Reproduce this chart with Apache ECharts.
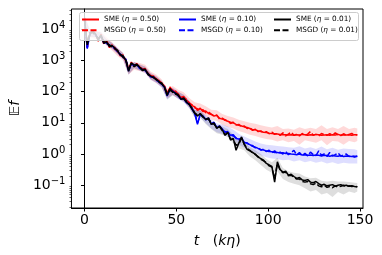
<!DOCTYPE html>
<html><head><meta charset="utf-8">
<script src="https://cdn.jsdelivr.net/npm/echarts@6/dist/echarts.min.js"></script>
<style>html,body{margin:0;padding:0;background:#fff}#c{width:382px;height:255px}</style>
</head><body><div id="c"></div>
<script>
// sample times (k eta): 0, 1.5, ..., 148.5 for the curves
const tStep = 1.5;
// band sample times: 0, 3, ..., 147, 148.5
const bandStep = 3;
// log10 of E f
const smeRed = [4.34,3.45,3.88,3.92,3.83,3.68,3.8,3.58,3.62,3.47,
 3.46,3.42,3.28,3.2,3.13,3.03,2.7,2.93,2.83,2.87,
 2.8,2.72,2.74,2.58,2.52,2.48,2.42,2.35,2.28,2.18,
 1.95,2.12,2.05,1.98,1.93,1.8,1.85,1.72,1.65,1.55,
 1.52,1.4,1.47,1.36,1.38,1.3,1.27,1.22,1.24,1.15,
 1.12,1.1,1.05,1.02,1.0,0.95,0.92,0.9,0.87,0.85,
 0.82,0.78,0.78,0.74,0.72,0.7,0.69,0.67,0.66,0.65,
 0.64,0.63,0.62,0.62,0.61,0.62,0.6,0.62,0.61,0.63,
 0.62,0.6,0.62,0.61,0.63,0.62,0.6,0.61,0.62,0.6,
 0.62,0.61,0.63,0.6,0.62,0.61,0.62,0.6,0.62,0.62];
const msgdRed = [4.3,3.42,3.9,3.9,3.86,3.62,3.84,3.52,3.65,3.42,
 3.5,3.36,3.32,3.15,3.18,2.98,2.72,2.95,2.8,2.9,
 2.76,2.74,2.68,2.6,2.48,2.5,2.38,2.36,2.25,2.2,
 1.9,2.15,2.0,2.02,1.9,1.85,1.8,1.75,1.62,1.58,
 1.48,1.45,1.4,1.42,1.32,1.35,1.28,1.22,1.25,1.12,
 1.15,1.08,1.06,0.98,1.02,0.93,0.95,0.88,0.9,0.82,
 0.84,0.76,0.8,0.72,0.74,0.68,0.72,0.65,0.7,0.63,
 0.66,0.6,0.68,0.58,0.64,0.7,0.6,0.64,0.58,0.66,
 0.6,0.64,0.72,0.6,0.63,0.58,0.66,0.62,0.6,0.65,
 0.6,0.68,0.62,0.59,0.65,0.6,0.63,0.66,0.6,0.62];
const smeBlue = [4.35,3.4,3.87,3.93,3.84,3.66,3.8,3.56,3.58,3.46,
 3.47,3.38,3.31,3.17,3.14,3.01,2.66,2.9,2.86,2.86,
 2.77,2.71,2.7,2.56,2.49,2.46,2.39,2.31,2.24,2.14,
 1.86,2.08,2.02,1.94,1.88,1.76,1.78,1.65,1.6,1.44,
 1.3,0.95,1.28,1.2,1.12,1.15,0.96,1.02,0.84,0.9,
 0.8,0.7,0.72,0.6,0.62,0.5,0.48,0.5,0.38,0.34,
 0.3,0.25,0.22,0.18,0.15,0.13,0.1,0.08,0.07,0.05,
 0.05,0.03,0.04,0.02,0.02,0.0,-0.01,-0.02,0.0,-0.03,
 -0.02,-0.04,-0.03,-0.05,-0.03,-0.04,-0.06,-0.04,-0.05,-0.07,
 -0.05,-0.06,-0.07,-0.05,-0.08,-0.06,-0.07,-0.08,-0.07,-0.08];
const msgdBlue = [4.3,3.38,3.9,3.9,3.82,3.7,3.76,3.6,3.55,3.5,
 3.44,3.4,3.28,3.2,3.1,3.04,2.7,2.88,2.84,2.88,
 2.74,2.72,2.68,2.58,2.47,2.48,2.36,2.33,2.22,2.16,
 1.9,2.05,2.0,1.96,1.86,1.78,1.75,1.68,1.56,1.47,
 1.33,1.0,1.25,1.22,1.1,1.13,0.98,0.99,0.86,0.88,
 0.78,0.72,0.68,0.62,0.58,0.52,0.45,0.52,0.36,0.36,
 0.28,0.27,0.2,0.2,0.12,0.16,0.08,0.12,0.04,0.1,
 0.02,0.06,0.0,0.08,-0.02,0.04,0.12,-0.03,0.05,-0.05,
 0.02,-0.06,0.06,-0.02,-0.05,0.1,-0.04,0.0,-0.08,0.05,
 -0.06,-0.02,0.04,-0.07,-0.03,0.0,-0.08,-0.05,-0.1,-0.06];
const smeBlack = [4.36,3.5,3.85,3.95,3.85,3.65,3.82,3.55,3.6,3.45,
 3.48,3.4,3.3,3.18,3.15,3.0,2.65,2.92,2.85,2.88,
 2.78,2.7,2.72,2.55,2.5,2.45,2.4,2.32,2.25,2.15,
 1.88,2.1,2.0,1.95,1.9,1.75,1.8,1.66,1.6,1.45,
 1.3,1.22,1.3,1.2,1.1,1.16,0.95,1.0,0.82,0.9,
 0.78,0.6,0.7,0.45,0.5,0.12,0.35,0.55,0.3,0.15,
 0.1,0.05,0.0,-0.1,-0.15,-0.2,-0.3,-0.35,-0.4,-0.9,
 -0.25,-0.5,-0.58,-0.55,-0.68,-0.65,-0.72,-0.78,-0.75,-0.83,
 -0.85,-0.82,-0.9,-0.92,-0.88,-0.95,-1.0,-0.97,-1.02,-1.0,
 -0.98,-1.03,-1.0,-0.98,-1.02,-1.0,-1.03,-1.02,-1.04,-1.05];
const msgdBlack = [4.3,3.55,3.9,3.9,3.8,3.7,3.78,3.6,3.55,3.5,
 3.42,3.38,3.32,3.2,3.1,3.02,2.75,2.9,2.8,2.85,
 2.8,2.68,2.7,2.58,2.48,2.47,2.38,2.3,2.28,2.12,
 1.95,2.05,1.98,1.92,1.88,1.78,1.76,1.7,1.58,1.48,
 1.32,1.25,1.28,1.18,1.12,1.12,0.98,0.96,0.85,0.88,
 0.75,0.62,0.68,0.48,0.46,0.28,0.32,0.5,0.32,0.18,
 0.12,0.04,-0.02,-0.08,-0.17,-0.22,-0.28,-0.38,-0.42,-0.8,
 -0.3,-0.52,-0.6,-0.58,-0.7,-0.68,-0.75,-0.8,-0.8,-0.88,
 -0.9,-0.88,-0.95,-0.98,-0.93,-1.02,-1.05,-1.0,-1.07,-1.04,
 -1.08,-1.02,-1.06,-1.03,-1.0,-1.05,-1.02,-1.04,-1.03,-1.05];
// shaded bands (log10), at band sample times
const redHi = [4.45,4.0,3.95,3.92,3.75,3.58,3.4,3.25,2.85,2.95,
 2.92,2.86,2.65,2.55,2.4,2.1,2.18,2.06,1.98,1.8,
 1.66,1.62,1.53,1.42,1.4,1.28,1.22,1.17,1.1,1.05,
 1.0,0.97,0.92,0.88,0.85,0.9,0.8,0.82,0.78,0.86,
 0.8,0.84,0.8,0.92,0.8,0.86,0.8,0.9,0.8,0.84,0.82];
const redLo = [4.2,3.74,3.7,3.66,3.48,3.32,3.14,3.0,2.55,2.7,
 2.66,2.6,2.38,2.28,2.14,1.8,1.9,1.78,1.7,1.5,
 1.36,1.3,1.22,1.1,1.06,0.94,0.87,0.82,0.74,0.68,
 0.62,0.58,0.52,0.48,0.46,0.4,0.44,0.38,0.42,0.3,
 0.44,0.4,0.36,0.44,0.28,0.42,0.4,0.3,0.42,0.38,0.42];
const blueHi = [4.45,3.97,3.94,3.9,3.68,3.57,3.41,3.24,2.78,2.96,
 2.87,2.8,2.6,2.5,2.35,1.98,2.13,2.0,1.9,1.72,
 1.42,1.4,1.25,1.1,0.98,0.95,0.88,0.78,0.65,0.56,
 0.48,0.4,0.34,0.3,0.28,0.26,0.24,0.22,0.2,0.25,
 0.18,0.22,0.16,0.24,0.15,0.2,0.14,0.18,0.16,0.15,0.12];
const blueLo = [4.25,3.77,3.74,3.7,3.48,3.37,3.21,3.04,2.54,2.76,
 2.67,2.6,2.38,2.28,2.13,1.74,1.9,1.76,1.66,1.48,
 1.18,1.16,0.99,0.82,0.7,0.65,0.56,0.46,0.3,0.2,
 0.12,0.04,-0.04,-0.1,-0.14,-0.16,-0.2,-0.18,-0.24,-0.2,
 -0.26,-0.22,-0.28,-0.24,-0.3,-0.26,-0.32,-0.28,-0.3,-0.3,-0.3];
const blackHi = [4.44,3.93,3.93,3.9,3.68,3.56,3.38,3.23,2.74,2.94,
 2.87,2.81,2.59,2.49,2.34,1.98,2.1,2.0,1.9,1.7,
 1.4,1.4,1.2,1.05,0.92,0.88,0.8,0.62,0.47,0.42,
 0.22,0.12,0.0,-0.16,-0.26,-0.12,-0.45,-0.55,-0.6,-0.62,
 -0.72,-0.78,-0.76,-0.86,-0.88,-0.86,-0.88,-0.88,-0.9,-0.92,-0.93];
const blackLo = [4.26,3.75,3.75,3.72,3.5,3.38,3.2,3.05,2.55,2.75,
 2.68,2.62,2.4,2.3,2.15,1.76,1.88,1.78,1.68,1.47,
 1.17,1.17,0.96,0.8,0.67,0.62,0.54,0.34,0.18,0.12,
 -0.08,-0.2,-0.35,-0.5,-0.6,-0.55,-0.8,-0.9,-0.95,-1.0,
 -1.1,-1.2,-1.15,-1.3,-1.25,-1.38,-1.22,-1.3,-1.2,-1.25,-1.2];
const xTicks = [0, 50, 100, 150];
const yTicks = [0.1, 1, 10, 100, 1000, 10000];
const names = {
  sr: 'SME (η = 0.50)', mr: 'MSGD (η = 0.50)',
  sb: 'SME (η = 0.10)', mb: 'MSGD (η = 0.10)',
  sk: 'SME (η = 0.01)', mk: 'MSGD (η = 0.01)'
};

const lineT = smeRed.map((_, i) => i * tStep);
const bandT = redHi.map((_, i) => (i < redHi.length - 1 ? i * bandStep : 148.5));
const pairs = (ts, logs) => logs.map((l, i) => [ts[i], Math.pow(10, l)]);

const minorTicks = [];
for (let e = -2; e <= 4; e++) for (let m = 2; m <= 9; m++) minorTicks.push(m * Math.pow(10, e));

const FONT = 'DejaVu Sans';
function bandSeries(lo, hi, color) {
  const loPts = pairs(bandT, lo), hiPts = pairs(bandT, hi);
  return {
    type: 'custom', silent: true, z: 1, clip: true,
    data: hiPts,
    renderItem: function (params, api) {
      if (params.dataIndex !== 0) return;
      const pts = hiPts.map(p => api.coord(p)).concat(loPts.slice().reverse().map(p => api.coord(p)));
      return { type: 'polygon', shape: { points: pts }, style: { fill: color } };
    }
  };
}
function lineSeries(name, logs, color, dashed) {
  return { type: 'line', name: name, data: pairs(lineT, logs), symbol: 'none', z: 2,
    lineStyle: { color: color, width: 1.5, type: dashed ? [6, 2.5] : 'solid' },
    itemStyle: { color: color } };
}
const LFS = 7.3;
const richLegend = {
  n: { fontFamily: FONT, fontSize: LFS, color: '#000' },
  i: { fontFamily: FONT, fontSize: LFS, fontStyle: 'italic', color: '#000' }
};
const legendFmt = (n) => n.replace(/^(.*\()η(.*)$/, (m, a, b) => '{n|' + a + '}{i|η}{n|' + b + '}');
function legend(left, data) {
  return { orient: 'vertical', left: left, top: 16, itemWidth: 17, itemHeight: 8, itemGap: 3.7,
    data: data, formatter: legendFmt, textStyle: { rich: richLegend, fontSize: LFS },
    itemStyle: { opacity: 0 },
    padding: 0, selectedMode: false };
}
const supDigits = (v) => {
  const e = Math.round(Math.log10(v));
  return '{b|10}{s|' + (e < 0 ? '\u2212' + (-e) : e) + '}';
};

const chart = echarts.init(document.getElementById('c'), null, { renderer: 'canvas' });
chart.setOption({
  animation: false,
  backgroundColor: '#fff',
  grid: { left: 65.5, right: 19, top: 9, bottom: 47, show: true, borderColor: '#000', borderWidth: 1, containLabel: false },
  xAxis: {
    type: 'value', min: -7.1, max: 151.6,
    axisLine: { lineStyle: { color: '#000', width: 1 } },
    axisTick: { length: 3.5, lineStyle: { color: '#000' }, customValues: xTicks },
    axisLabel: { customValues: xTicks, color: '#000', fontFamily: FONT, fontSize: 14, margin: 5 },
    splitLine: { show: false },
    name: '{i|t}{n|   (}{i|kη}{n|)}', nameLocation: 'middle', nameGap: 26,
    nameTextStyle: { rich: { i: { fontFamily: FONT, fontStyle: 'italic', fontSize: 14, color: '#000' },
                             n: { fontFamily: FONT, fontSize: 14, color: '#000' } } }
  },
  yAxis: [{
    type: 'log', logBase: 10, min: Math.pow(10, -1.73), max: Math.pow(10, 4.65),
    axisLine: { lineStyle: { color: '#000', width: 1 } },
    axisTick: { length: 3.5, lineStyle: { color: '#000' }, customValues: yTicks },
    axisLabel: { customValues: yTicks, formatter: supDigits, margin: 6,
      rich: { b: { fontFamily: FONT, fontSize: 14, color: '#000' },
              s: { fontFamily: FONT, fontSize: 10, color: '#000', verticalAlign: 'bottom', padding: [0, 0, 8, 0] } } },
    splitLine: { show: false },
    name: '{e|𝔼}{i|f}', nameLocation: 'middle', nameGap: 48, nameRotate: 90,
    nameTextStyle: { rich: { e: { fontFamily: FONT, fontSize: 14, color: '#000' },
                             i: { fontFamily: FONT, fontStyle: 'italic', fontSize: 14, color: '#000' } } }
  }, {
    type: 'log', logBase: 10, min: Math.pow(10, -1.73), max: Math.pow(10, 4.65), position: 'left',
    axisLine: { show: false },
    axisTick: { length: 2, lineStyle: { color: '#000', width: 0.6 }, customValues: minorTicks },
    axisLabel: { show: false }, splitLine: { show: false }
  }],
  legend: [
    legend(81, [names.sr, names.mr]),
    legend(178, [names.sb, names.mb]),
    legend(273, [names.sk, names.mk])
  ],
  graphic: [{ type: 'rect', shape: { x: 79.5, y: 12.5, width: 279, height: 28, r: 2 }, z: 3,
    style: { fill: 'rgba(255,255,255,0.8)', stroke: '#cccccc', lineWidth: 1 } }],
  series: [
    bandSeries(redLo, redHi, 'rgba(255,0,0,0.15)'),
    lineSeries(names.sr, smeRed, '#ff0000', false),
    lineSeries(names.mr, msgdRed, '#ff0000', true),
    bandSeries(blueLo, blueHi, 'rgba(0,0,255,0.13)'),
    lineSeries(names.sb, smeBlue, '#0000ff', false),
    lineSeries(names.mb, msgdBlue, '#0000ff', true),
    bandSeries(blackLo, blackHi, 'rgba(0,0,0,0.13)'),
    lineSeries(names.sk, smeBlack, '#000000', false),
    lineSeries(names.mk, msgdBlack, '#000000', true)
  ]
});
</script></body></html>
